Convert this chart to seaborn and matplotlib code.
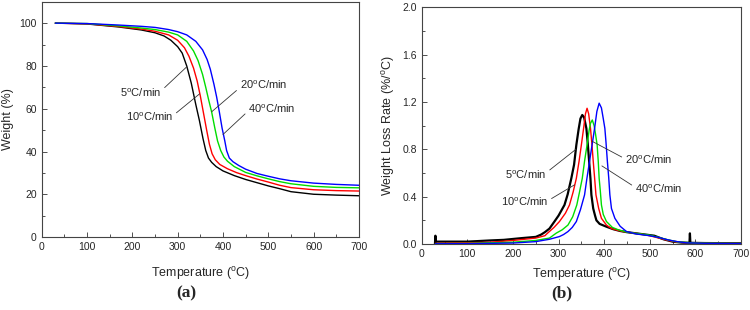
import pandas as pd
import seaborn as sns
import matplotlib.pyplot as plt
from matplotlib.ticker import MultipleLocator, FormatStrFormatter

# heating rates
rates = ['5', '10', '20', '40']
colors = ['black', '#ff0000', '#00dd00', '#0000ff']

# TG curves (a): temperature (C) and weight (%)
tg_temp_5 = [30, 100, 170, 220, 250, 270, 285, 300, 310, 320, 330, 340, 348, 356, 362, 368, 375, 385, 400, 425, 450, 475, 500, 525, 550, 600, 650, 700]
tg_w_5 = [100, 99.6, 98.2, 96.8, 95.5, 94, 92, 89, 86, 80, 72, 62, 54.5, 46, 40.5, 37, 35, 33, 31, 28.8, 27, 25.5, 24, 22.7, 21.3, 20.1, 19.7, 19.4]
tg_temp_10 = [30, 100, 170, 220, 250, 280, 300, 315, 325, 335, 343, 350, 357, 364, 370, 376, 383, 393, 410, 430, 450, 475, 500, 525, 550, 600, 650, 700]
tg_w_10 = [100, 99.7, 98.4, 97.2, 96.2, 94.5, 92, 88.5, 84.5, 79, 73, 66, 58, 50, 43.5, 39, 36.2, 34, 32, 30.2, 28.8, 27.2, 25.8, 24.3, 23.2, 22.2, 21.8, 21.6]
tg_temp_20 = [30, 100, 170, 220, 250, 280, 300, 320, 335, 345, 355, 362, 368, 375, 382, 388, 395, 402, 410, 425, 450, 475, 500, 525, 550, 600, 650, 700]
tg_w_20 = [100, 99.8, 98.7, 97.7, 97, 95.8, 94.5, 91.5, 87, 82.5, 76, 70, 64.5, 58.5, 51, 45, 40.5, 37.5, 35.5, 33, 30.3, 28.7, 27.3, 26, 25, 23.8, 23.3, 23.1]
tg_temp_40 = [30, 100, 170, 220, 250, 280, 300, 320, 340, 355, 365, 372, 380, 386, 392, 398, 404, 408, 414, 422, 435, 450, 475, 500, 525, 550, 600, 650, 700]
tg_w_40 = [100, 99.8, 99.1, 98.5, 98, 97, 96, 94.5, 91.5, 87.5, 83, 78.5, 71.5, 65.5, 58.5, 51, 45, 40.5, 37, 35.3, 33.5, 31.8, 29.8, 28.5, 27.3, 26.4, 25.3, 24.7, 24.3]

# DTG curves (b): temperature (C) and weight loss rate (%/C)
dtg_temp_5 = [29, 30, 31, 60, 100, 150, 180, 220, 250, 262, 270, 280, 291, 300, 313, 320, 328, 334, 339, 344, 348, 352, 356, 361, 364, 367, 370, 372, 376, 380, 383, 390, 405, 420, 435, 450, 470, 490, 510, 530, 550, 570, 587, 588, 589, 620, 700]
dtg_r_5 = [0.0, 0.07, 0.02, 0.02, 0.02, 0.03, 0.035, 0.05, 0.06, 0.08, 0.10, 0.13, 0.19, 0.24, 0.33, 0.42, 0.555, 0.67, 0.837, 0.97, 1.06, 1.09, 1.07, 0.977, 0.85, 0.70, 0.55, 0.415, 0.30, 0.24, 0.20, 0.17, 0.146, 0.125, 0.11, 0.10, 0.09, 0.08, 0.07, 0.04, 0.02, 0.012, 0.01, 0.09, 0.01, 0.008, 0.006]
dtg_temp_10 = [30, 100, 150, 200, 250, 270, 276, 290, 302, 315, 324, 332, 339, 345, 350, 355, 359, 362.5, 366, 370, 373, 376, 379, 382, 388, 394, 405, 416, 430, 442, 460, 480, 500, 520, 540, 560, 600, 700]
dtg_r_10 = [0.005, 0.01, 0.015, 0.03, 0.05, 0.07, 0.092, 0.14, 0.19, 0.26, 0.33, 0.44, 0.555, 0.70, 0.837, 0.98, 1.10, 1.147, 1.10, 0.977, 0.85, 0.70, 0.56, 0.415, 0.30, 0.217, 0.16, 0.13, 0.115, 0.105, 0.095, 0.085, 0.07, 0.05, 0.03, 0.015, 0.008, 0.005]
dtg_temp_20 = [30, 100, 200, 250, 280, 295, 308, 320.6, 331, 340, 346, 352, 357, 362.5, 367, 370, 374, 378, 381, 384.6, 387, 389, 391.5, 394, 398, 405, 418, 431, 450, 480, 500, 520, 540, 560, 600, 700]
dtg_r_20 = [0.003, 0.005, 0.015, 0.03, 0.05, 0.092, 0.12, 0.16, 0.23, 0.33, 0.44, 0.555, 0.70, 0.837, 0.96, 1.02, 1.048, 1.0, 0.93, 0.837, 0.70, 0.555, 0.45, 0.33, 0.25, 0.19, 0.14, 0.12, 0.10, 0.085, 0.075, 0.055, 0.035, 0.018, 0.008, 0.005]
dtg_temp_40 = [30, 100, 200, 250, 280, 302, 311, 320.6, 330, 339, 348, 357, 362, 368, 374, 379, 384, 389, 394, 398, 401.5, 404, 407, 410, 412.5, 416, 423.5, 435, 449, 470, 500, 520, 540, 560, 580, 620, 700]
dtg_r_40 = [0.002, 0.003, 0.008, 0.02, 0.04, 0.063, 0.08, 0.105, 0.14, 0.19, 0.29, 0.415, 0.55, 0.70, 0.85, 0.977, 1.12, 1.19, 1.15, 1.06, 0.977, 0.86, 0.70, 0.56, 0.415, 0.30, 0.217, 0.15, 0.105, 0.085, 0.07, 0.055, 0.035, 0.02, 0.01, 0.006, 0.004]

tg = {'5': (tg_temp_5, tg_w_5), '10': (tg_temp_10, tg_w_10),
      '20': (tg_temp_20, tg_w_20), '40': (tg_temp_40, tg_w_40)}
dtg = {'5': (dtg_temp_5, dtg_r_5), '10': (dtg_temp_10, dtg_r_10),
       '20': (dtg_temp_20, dtg_r_20), '40': (dtg_temp_40, dtg_r_40)}

sns.set_style('ticks', {'xtick.direction': 'in', 'ytick.direction': 'in'})
plt.rcParams['font.family'] = ['Liberation Sans', 'DejaVu Sans']
plt.rcParams['mathtext.fontset'] = 'custom'
plt.rcParams['mathtext.rm'] = 'Liberation Sans'

fig = plt.figure(figsize=(7.5, 3.1), dpi=100)
ax1 = fig.add_axes([0.0556, 0.2345, 0.423, 0.760])
ax2 = fig.add_axes([0.5623, 0.2129, 0.4257, 0.7635])

for r, c in zip(rates, colors):
    df = pd.DataFrame({'temp': tg[r][0], 'weight': tg[r][1]})
    sns.lineplot(data=df, x='temp', y='weight', color=c, lw=1.0, ax=ax1, estimator=None)
for r, c in zip(rates, colors):
    df = pd.DataFrame({'temp': dtg[r][0], 'rate': dtg[r][1]})
    sns.lineplot(data=df, x='temp', y='rate', color=c, lw=1.6 if r == '5' else 1.0,
                 ax=ax2, estimator=None)

deg = r'$\mathregular{^o}$'
for ax, pad in ((ax1, 9), (ax2, 5)):
    ax.set_xlim(0, 700)
    ax.xaxis.set_major_locator(MultipleLocator(100))
    ax.xaxis.set_minor_locator(MultipleLocator(50))
    ax.tick_params(which='major', length=3.5, width=0.6, labelsize=7.5, pad=3.5, color='#333333')
    ax.tick_params(which='minor', length=2, width=0.6, color='#333333')
    for s in ax.spines.values():
        s.set_visible(True)
        s.set_linewidth(0.8)
        s.set_color('#444444')
    ax.set_xlabel('Temperature (' + deg + 'C)', fontsize=9, labelpad=pad)

ax1.set_ylim(0, 110)
ax1.yaxis.set_major_locator(MultipleLocator(20))
ax1.yaxis.set_minor_locator(MultipleLocator(10))
ax1.set_yticks([0, 20, 40, 60, 80, 100])
ax1.set_ylabel('Weight (%)', fontsize=9, labelpad=4)

ax2.set_ylim(0, 2.0)
ax2.yaxis.set_major_locator(MultipleLocator(0.4))
ax2.yaxis.set_minor_locator(MultipleLocator(0.2))
ax2.yaxis.set_major_formatter(FormatStrFormatter('%.1f'))
ax2.set_ylabel('Weight Loss Rate (%/' + deg + 'C)', fontsize=9, labelpad=4)

line = dict(arrowstyle='-', lw=0.6, color='#333333', shrinkA=0, shrinkB=0)
ann_tg = [('5', (320, 79.6), (264, 67.3), 'right', (1, 0.7)),
          ('10', (348.5, 67), (290, 56.3), 'right', (1, 0.6)),
          ('20', (375, 58.6), (437, 71), 'left', (0, 0.3)),
          ('40', (400, 48), (456, 60.2), 'left', (0, 0.3))]
ann_dtg = [('5', (338, 0.80), (273.5, 0.583), 'right', (1, 0.7)),
           ('10', (335, 0.50), (277.5, 0.357), 'right', (1, 0.6)),
           ('20', (372.6, 0.87), (445.6, 0.71), 'left', (0, 0.6)),
           ('40', (395, 0.66), (467.6, 0.47), 'left', (0, 0.6))]
for ax, anns in ((ax1, ann_tg), (ax2, ann_dtg)):
    for r, xy, xyt, ha, rp in anns:
        ax.annotate(r + deg + 'C/min', xy=xy, xytext=xyt, ha=ha, va='center',
                    fontsize=8, arrowprops=dict(line, relpos=rp))

fig.text(0.249, 0.052, '(a)', ha='center', va='center', fontsize=12.5,
         fontweight='bold', family=['Liberation Serif', 'DejaVu Serif'])
fig.text(0.749, 0.052, '(b)', ha='center', va='center', fontsize=12.5,
         fontweight='bold', family=['Liberation Serif', 'DejaVu Serif'])

fig.savefig('out.png', dpi=100)
